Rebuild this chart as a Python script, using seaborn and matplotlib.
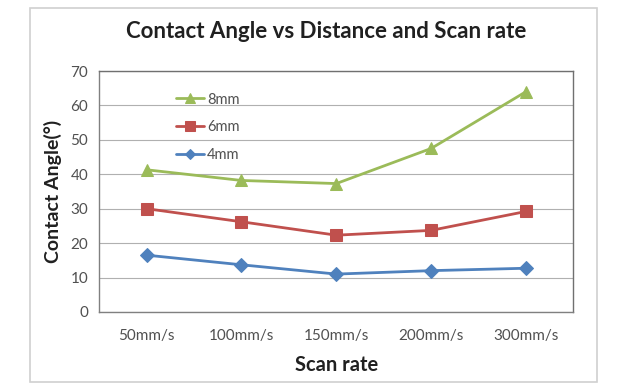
import numpy as np
import pandas as pd
import matplotlib
matplotlib.use("Agg")
import matplotlib.pyplot as plt
import seaborn as sns
from matplotlib.patches import Rectangle

scan_rates = ["50mm/s", "100mm/s", "150mm/s", "200mm/s", "300mm/s"]
angle_8mm = [41.3, 38.2, 37.3, 47.5, 64.0]
angle_6mm = [30.0, 26.2, 22.3, 23.7, 29.2]
angle_4mm = [16.5, 13.7, 11.0, 12.0, 12.7]
y_ticks = [0, 10, 20, 30, 40, 50, 60, 70]

series = [
    ("8mm", angle_8mm, "#9BBB59", "^", 9),
    ("6mm", angle_6mm, "#C0504D", "s", 9),
    ("4mm", angle_4mm, "#4F81BD", "D", 7),
]

sns.set_theme(style="white")
plt.rcParams["font.family"] = ["Lato", "DejaVu Sans"]

fig = plt.figure(figsize=(6.4, 3.88), dpi=100)
ax = fig.add_axes([0.155, 0.196, 0.741, 0.621])

x_pos = np.arange(len(scan_rates))
for name, vals, color, marker, size in series:
    df = pd.DataFrame({"x": x_pos, "y": vals})
    sns.lineplot(data=df, x="x", y="y", ax=ax, color=color, marker=marker,
                 markersize=size, markeredgecolor=color, linewidth=2,
                 label=name)

ax.set_xlim(-0.5, len(scan_rates) - 0.5)
ax.set_ylim(0, 70)
ax.set_yticks(y_ticks)
ax.set_xticks(x_pos)
ax.set_xticklabels(scan_rates, fontsize=11, color="#505050")
ax.tick_params(axis="y", labelsize=11, labelcolor="#505050", length=0, pad=8)
ax.tick_params(axis="x", length=0, pad=12)
# Excel-style tick marks between categories
ax.set_xticks(np.arange(-0.5, len(scan_rates)), minor=True)
ax.tick_params(axis="x", which="minor", length=4, color="#999999", direction="out")
ax.yaxis.grid(True, color="#B0B0B0", linewidth=0.8)
ax.set_axisbelow(True)
for side in ["top", "right"]:
    ax.spines[side].set_color("#707070")
    ax.spines[side].set_linewidth(1.0)
for side in ["left", "bottom"]:
    ax.spines[side].set_color("#808080")
    ax.spines[side].set_linewidth(1.0)

ax.set_xlabel("Scan rate", fontsize=14.5, fontweight="bold", labelpad=9,
              color="#202020")
ax.set_ylabel("Contact Angle(°)", fontsize=14, fontweight="bold", labelpad=6,
              color="#202020")
fig.suptitle("Contact Angle vs Distance and Scan rate", fontsize=16,
             fontweight="bold", x=0.51, y=0.945, color="#202020")

ax.legend(loc="upper left", bbox_to_anchor=(0.135, 0.965), frameon=False,
          fontsize=10.5, handlelength=1.9, handletextpad=0.2, labelspacing=0.95,
          markerscale=0.75, labelcolor="#505050")

fig.patches.append(Rectangle((0.047, 0.015), 0.886, 0.964, transform=fig.transFigure,
                             fill=False, edgecolor="#D0D0D0", linewidth=1.2))

fig.savefig("out.png", dpi=100)
